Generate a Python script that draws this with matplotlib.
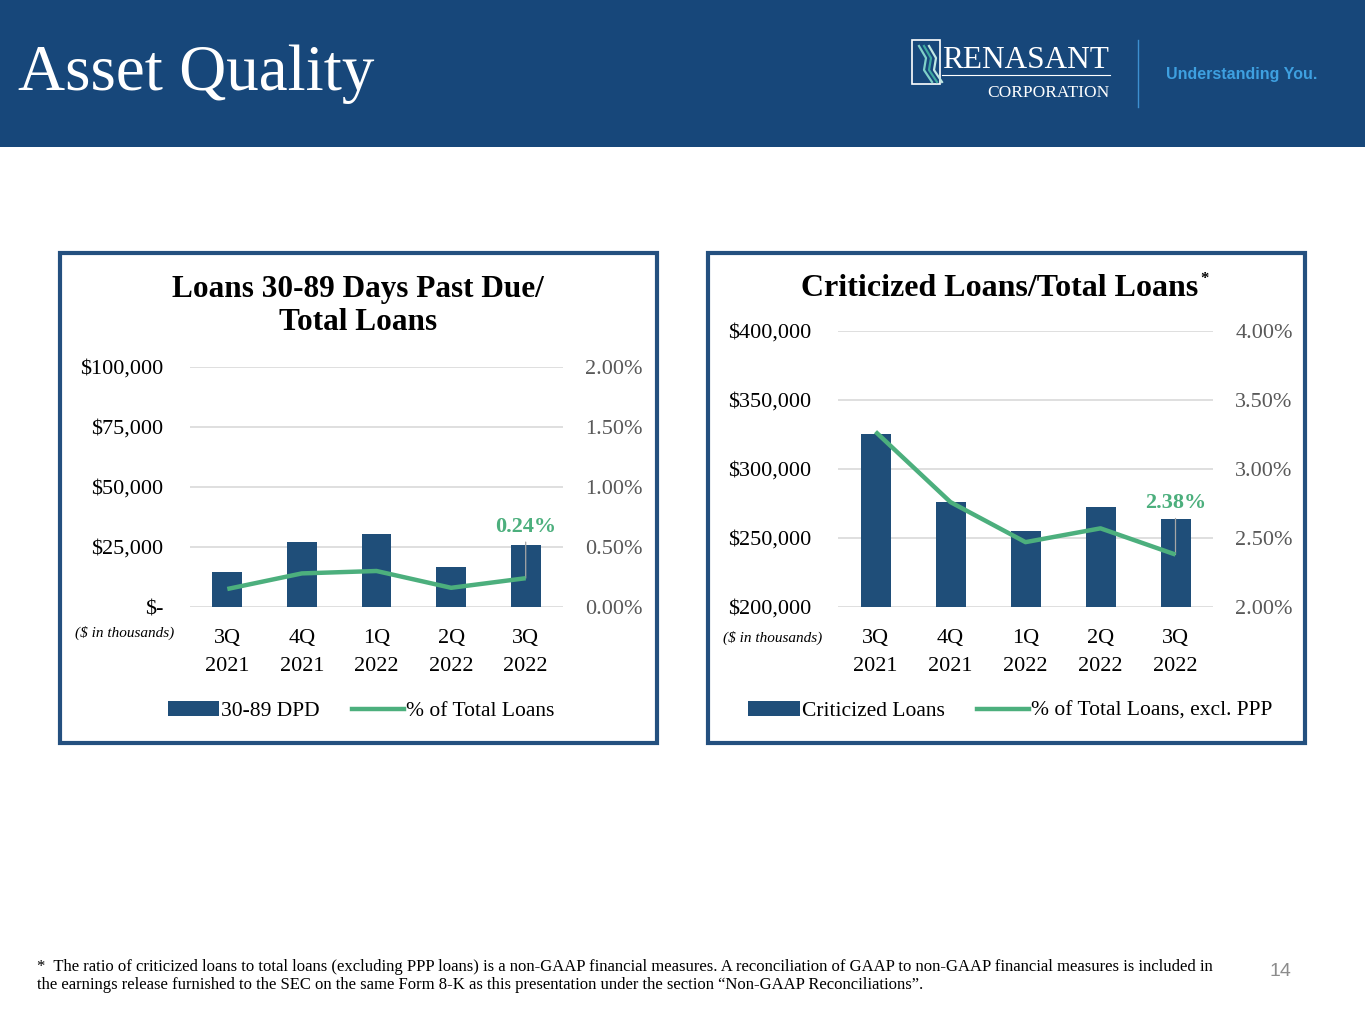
import matplotlib.pyplot as plt
import matplotlib.patches as mpatches
from matplotlib.lines import Line2D
from matplotlib.ticker import FuncFormatter

W, H = 1365, 1024

# data
quarters = ['3Q\n2021', '4Q\n2021', '1Q\n2022', '2Q\n2022', '3Q\n2022']
dpd_amount = [14500, 27200, 30400, 16600, 25900]
dpd_pct = [0.15, 0.28, 0.30, 0.16, 0.24]
crit_amount = [325500, 276200, 254800, 272300, 263500]
crit_pct = [3.27, 2.76, 2.47, 2.57, 2.38]

NAVY = '#1f4e79'
GREEN = '#4caf7d'
HEADER = '#17477a'
SERIF = ['Liberation Serif', 'DejaVu Serif']

plt.rcParams['font.family'] = SERIF


def px(x0, y0, x1, y1):
    # pixel box (top-left origin) -> figure fraction rect
    return [x0 / W, 1 - y1 / H, (x1 - x0) / W, (y1 - y0) / H]


fig = plt.figure(figsize=(W / 100, H / 100), dpi=100)
fig.patch.set_facecolor('white')

# header band
fig.patches.append(mpatches.Rectangle((0, 1 - 147 / H), 1, 147 / H, transform=fig.transFigure,
                                      facecolor=HEADER, edgecolor='none', zorder=0))
fig.text(18 / W, 1 - 74 / H, 'Asset Quality', color='white', fontsize=47, va='center', ha='left')

# logo
fig.patches.append(mpatches.Rectangle((912 / W, 1 - 84 / H), 28 / W, 44 / H, transform=fig.transFigure,
                                      facecolor='none', edgecolor='white', lw=1.2))
for dx, c in [(0, '#7fd0c8'), (5, '#3fa9a0'), (10, '#bfe8e3')]:
    fig.add_artist(Line2D([(919 + dx) / W, (926 + dx) / W, (924 + dx) / W, (932 + dx) / W],
                          [1 - 46 / H, 1 - 58 / H, 1 - 70 / H, 1 - 82 / H],
                          color=c, lw=1.6, transform=fig.transFigure))
fig.text(942 / W, 1 - 68 / H, 'RENASANT', color='white', fontsize=22.5, va='baseline', ha='left')
fig.add_artist(Line2D([942 / W, 1110 / W], [1 - 75 / H, 1 - 75 / H], color='white', lw=0.8,
                      transform=fig.transFigure))
fig.text(1110 / W, 1 - 97 / H, 'CORPORATION', color='white', fontsize=12.5, va='baseline', ha='right')
fig.add_artist(Line2D([1138 / W, 1138 / W], [1 - 40 / H, 1 - 107 / H], color='#3d8fd0', lw=1.0,
                      transform=fig.transFigure))
fig.text(1166 / W, 1 - 75 / H, 'Understanding You.', color='#3ea0e0', fontsize=11.5, fontweight='bold',
         va='center', ha='left', family='Liberation Sans')

# panel borders
for x0 in (60, 708):
    fig.patches.append(mpatches.Rectangle((x0 / W, 1 - 743 / H), 597 / W, 490 / H, transform=fig.transFigure,
                                          facecolor='none', edgecolor='#24507f', lw=3))


def dollar_fmt(v, p):
    if v == 0:
        return '$-'
    return f'${v:,.0f}'


def draw_panel(box, amounts, pcts, ylim, yticks, pticks, ann_text):
    ax = fig.add_axes(px(*box))
    x = list(range(len(quarters)))
    ax.bar(x, amounts, width=0.4, color=NAVY, zorder=3)
    ax.set_xlim(-0.5, len(quarters) - 0.5)
    ax.set_ylim(*ylim)
    ax.set_yticks(yticks)
    ax.yaxis.set_major_formatter(FuncFormatter(dollar_fmt))
    ax.grid(axis='y', color='#d9d9d9', lw=1.2, zorder=0)
    for s in ax.spines.values():
        s.set_visible(False)
    ax.tick_params(axis='both', length=0, labelsize=16, colors='black')
    ax.tick_params(axis='y', pad=19)
    ax.set_xticks(x)
    ax.set_xticklabels(quarters)
    for t in ax.get_xticklabels():
        t.set_linespacing(1.6)
    ax.tick_params(axis='x', pad=16)

    ax2 = ax.twinx()
    ax2.plot(x, pcts, color=GREEN, lw=3.2, zorder=4, solid_capstyle='butt')
    ax2.set_ylim(pticks[0], pticks[-1])
    ax2.set_yticks(pticks)
    ax2.yaxis.set_major_formatter(FuncFormatter(lambda v, p: f'{v:.2f}%'))
    for s in ax2.spines.values():
        s.set_visible(False)
    ax2.tick_params(axis='y', length=0, labelsize=16, colors='#595959', pad=16)

    ax2.annotate(ann_text, xy=(x[-1], pcts[-1]), xytext=(0, 30), textcoords='offset points',
                 ha='center', va='bottom', color=GREEN, fontsize=16, fontweight='bold',
                 arrowprops=dict(arrowstyle='-', color='#a6a6a6', lw=0.9, shrinkA=2, shrinkB=0))
    return ax


# left panel
axL = draw_panel((190, 367, 563, 607), dpd_amount, dpd_pct, (0, 100000),
                 [0, 25000, 50000, 75000, 100000], [0, 0.5, 1.0, 1.5, 2.0], '0.24%')
fig.text(358 / W, 1 - 306 / H, 'Loans 30-89 Days Past Due/\nTotal Loans', ha='center', va='center',
         fontsize=22.5, fontweight='bold', linespacing=1.22)
fig.text(125 / W, 1 - 633 / H, '($ in thousands)', ha='center', va='center', fontsize=11, style='italic')

# right panel
axR = draw_panel((838, 331, 1213, 607), crit_amount, crit_pct, (200000, 400000),
                 [200000, 250000, 300000, 350000, 400000], [2.0, 2.5, 3.0, 3.5, 4.0], '2.38%')
fig.text(1000 / W, 1 - 288 / H, 'Criticized Loans/Total Loans', ha='center', va='center',
         fontsize=23, fontweight='bold')
fig.text(1200 / W, 1 - 279 / H, '*', ha='left', va='center', fontsize=12, fontweight='bold')
fig.text(773 / W, 1 - 638 / H, '($ in thousands)', ha='center', va='center', fontsize=11, style='italic')

# legends
for lx, labels in [(361, ('30-89 DPD', '% of Total Loans')),
                   (1010, ('Criticized Loans', '% of Total Loans, excl. PPP'))]:
    handles = [mpatches.Patch(facecolor=NAVY, edgecolor='none'),
               Line2D([0], [0], color=GREEN, lw=3.2)]
    fig.legend(handles, labels, loc='center', bbox_to_anchor=(lx / W, 1 - 711 / H), ncol=2,
               frameon=False, fontsize=15.5, handlelength=2.4, handleheight=0.7, handletextpad=0.1,
               columnspacing=1.5)

# footnote
fig.text(37 / W, 1 - 976 / H,
         '*  The ratio of criticized loans to total loans (excluding PPP loans) is a non-GAAP financial measures. '
         'A reconciliation of GAAP to non-GAAP financial measures is included in\n'
         'the earnings release furnished to the SEC on the same Form 8-K as this presentation under the section '
         '\u201cNon-GAAP Reconciliations\u201d.',
         ha='left', va='center', fontsize=12, linespacing=1.1)
fig.text(1280 / W, 1 - 972 / H, '14', ha='center', va='center', fontsize=14, color='#8c8c8c',
         family='Liberation Sans')

fig.savefig('out.png', dpi=100)
